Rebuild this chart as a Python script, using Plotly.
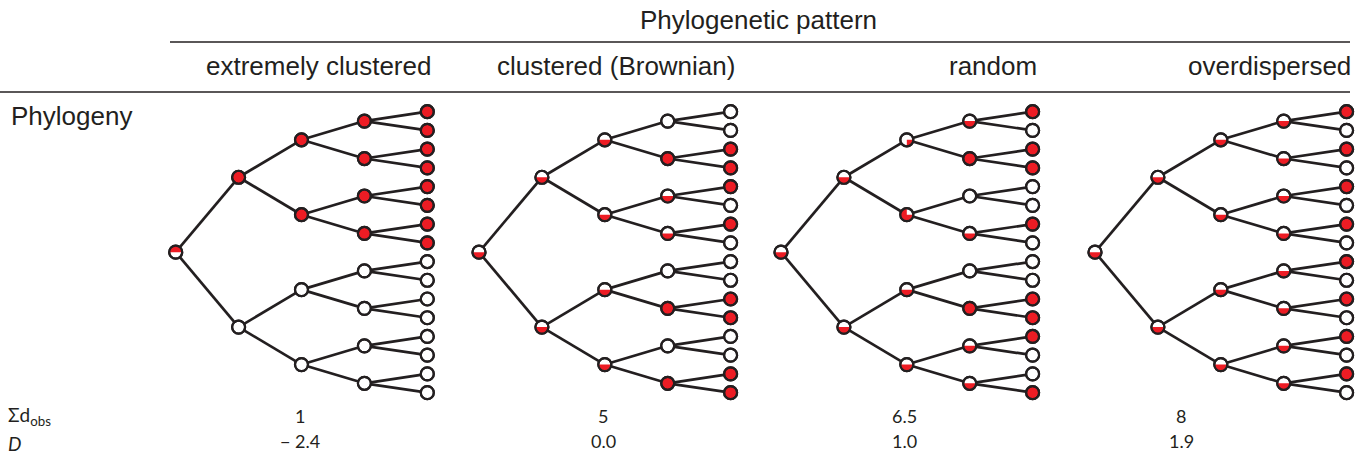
import math
import plotly.graph_objects as go

# ---------------- data ----------------
patterns = ["extremely clustered", "clustered (Brownian)", "random", "overdispersed"]
sum_d_obs = ["1", "5", "6.5", "8"]
D_values = ["\u2212 2.4", "0.0", "1.0", "1.9"]

# tip states, top to bottom (1 = red / trait present, 0 = white / absent)
tips = {
    "extremely clustered": [1, 1, 1, 1, 1, 1, 1, 1, 0, 0, 0, 0, 0, 0, 0, 0],
    "clustered (Brownian)": [0, 0, 1, 1, 1, 0, 1, 0, 0, 0, 1, 1, 0, 0, 1, 1],
    "random": [1, 0, 1, 1, 0, 0, 1, 0, 0, 0, 1, 1, 1, 0, 0, 1],
    "overdispersed": [1, 0, 1, 0, 1, 0, 1, 0, 1, 0, 1, 0, 1, 0, 1, 0],
}
# red fraction of internal nodes, by depth (top to bottom)
depth3 = {
    "extremely clustered": [1, 1, 1, 1, 0, 0, 0, 0],
    "clustered (Brownian)": [0, 1, 0.5, 0.5, 0, 1, 0, 1],
    "random": [0.5, 1, 0, 0.5, 0, 1, 0.5, 0.5],
    "overdispersed": [0.5, 0.5, 0.5, 0.5, 0.5, 0.5, 0.5, 0.5],
}
depth2 = {
    "extremely clustered": [1, 1, 0, 0],
    "clustered (Brownian)": [0.5, 0.5, 0.5, 0.5],
    "random": [0.25, 0.75, 0.5, 0.5],
    "overdispersed": [0.5, 0.5, 0.5, 0.5],
}
depth1 = {
    "extremely clustered": [1, 0],
    "clustered (Brownian)": [0.5, 0.5],
    "random": [0.5, 0.5],
    "overdispersed": [0.5, 0.5],
}
root = {
    "extremely clustered": [0.5],
    "clustered (Brownian)": [0.5],
    "random": [0.5],
    "overdispersed": [0.5],
}

# ---------------- style / layout ----------------
W, H = 1362, 463
RED = "#ED1C24"
INK = "#231F20"
STEP_PX = 62.9                     # pixels per depth unit
ROOT_PX = [175.7, 479.0, 781.0, 1095.0]
XR = [-0.4, 4.2]
LEAF0_PX, LEAF_STEP_PX = 111.7, 18.73
Y_TOP = -LEAF0_PX / LEAF_STEP_PX
Y_BOT = (H - LEAF0_PX) / LEAF_STEP_PX
SY = LEAF_STEP_PX
PIE_START = {"extremely clustered": math.pi}  # root wedge drawn on top in first tree
NODE_SIZE = 13
WEDGE_R = 6.0
VALUE_X_PX = [300, 603, 905, 1181]
ROW_SPLIT_PX = 428
HEAD_FONT = dict(family="Liberation Sans, Arial, sans-serif", size=26, color=INK)
NUM_FONT = dict(family="Lato, Open Sans, sans-serif", size=18, color=INK)
LAB_FONT = dict(family="Lato, Open Sans, sans-serif", size=19, color=INK)

fig = go.Figure()


def build_tree(states_by_depth):
    """Return list of (depth, y, frac) and edges, laid out by leaf order."""
    n_leaf = len(states_by_depth[4])
    ys = {4: [float(i) for i in range(n_leaf)]}
    for d in (3, 2, 1, 0):
        ch = ys[d + 1]
        ys[d] = [(ch[2 * i] + ch[2 * i + 1]) / 2 for i in range(len(ch) // 2)]
    nodes, edges = [], []
    for d in range(5):
        for i, y in enumerate(ys[d]):
            nodes.append((d, y, states_by_depth[d][i]))
            if d < 4:
                for c in (2 * i, 2 * i + 1):
                    edges.append(((d, y), (d + 1, ys[d + 1][c])))
    return nodes, edges


ysplit = 1 - ROW_SPLIT_PX / H

for t, name in enumerate(patterns):
    axn = "" if t == 0 else str(t + 1)
    xa, ya = "x" + axn, "y"
    sx = STEP_PX
    states = {0: root[name], 1: depth1[name], 2: depth2[name], 3: depth3[name], 4: tips[name]}
    nodes, edges = build_tree(states)

    ex, ey = [], []
    for (d0, y0), (d1, y1) in edges:
        ex += [d0, d1, None]
        ey += [y0, y1, None]
    fig.add_trace(go.Scatter(x=ex, y=ey, xaxis=xa, yaxis=ya, mode="lines",
                             line=dict(color=INK, width=2.7), hoverinfo="skip",
                             showlegend=False))

    fig.add_trace(go.Scatter(
        x=[n[0] for n in nodes], y=[n[1] for n in nodes], xaxis=xa, yaxis=ya,
        mode="markers", showlegend=False, hoverinfo="skip",
        marker=dict(size=NODE_SIZE, color=[RED if n[2] >= 1 else "white" for n in nodes],
                    line=dict(color=INK, width=2.2))))

    a0 = PIE_START.get(name, 0.0)
    for d, y, f in nodes:
        if 0 < f < 1:
            npts = 40
            px, py = [d], [y]
            for k in range(npts + 1):
                a = a0 + 2 * math.pi * f * k / npts
                px.append(d + WEDGE_R * math.cos(a) / sx)
                py.append(y + WEDGE_R * math.sin(a) / SY)
            px.append(d)
            py.append(y)
            fig.add_trace(go.Scatter(x=px, y=py, xaxis=xa, yaxis=ya, mode="lines",
                                     fill="toself", fillcolor=RED,
                                     line=dict(width=0, color=RED),
                                     hoverinfo="skip", showlegend=False))

    fig.add_trace(go.Scatter(
        x=[n[0] for n in nodes], y=[n[1] for n in nodes], xaxis=xa, yaxis=ya,
        mode="markers", showlegend=False, hoverinfo="skip",
        marker=dict(size=NODE_SIZE, color="rgba(0,0,0,0)",
                    line=dict(color=INK, width=2.2))))

    d0 = (ROOT_PX[t] + XR[0] * STEP_PX) / W
    d1 = d0 + (XR[1] - XR[0]) * STEP_PX / W
    fig.layout["xaxis" + axn] = dict(domain=[d0, d1], range=XR, visible=False,
                                     fixedrange=True)

    fig.add_annotation(text=name, xref=xa, yref="paper", x=4, xshift=6,
                       y=1 - 66 / H, xanchor="right", yanchor="middle",
                       showarrow=False, font=HEAD_FONT)
    fig.add_annotation(text=sum_d_obs[t], xref="paper", yref="paper",
                       x=VALUE_X_PX[t] / W, y=ysplit, xanchor="center",
                       yanchor="bottom", showarrow=False, font=NUM_FONT,
                       borderpad=0)
    fig.add_annotation(text=D_values[t], xref="paper", yref="paper",
                       x=VALUE_X_PX[t] / W, y=ysplit, yshift=-1, xanchor="center",
                       yanchor="top", showarrow=False, font=NUM_FONT,
                       borderpad=0)

fig.update_layout(
    width=W, height=H, margin=dict(l=0, r=0, t=0, b=0),
    paper_bgcolor="white", plot_bgcolor="white",
    yaxis=dict(domain=[0, 1], range=[Y_BOT, Y_TOP], visible=False, fixedrange=True),
    showlegend=False,
)

fig.add_annotation(text="Phylogenetic pattern", xref="paper", yref="paper",
                   x=758 / W, y=1 - 20 / H, xanchor="center", yanchor="middle",
                   showarrow=False, font=HEAD_FONT)
fig.add_annotation(text="Phylogeny", xref="paper", yref="paper",
                   x=9 / W, y=1 - 116 / H, xanchor="left", yanchor="middle",
                   showarrow=False, font=HEAD_FONT)
fig.add_annotation(text="\u03a3d<sub>obs</sub>", xref="paper", yref="paper",
                   x=7 / W, y=ysplit, yshift=-2, xanchor="left", yanchor="bottom",
                   showarrow=False, font=LAB_FONT, borderpad=0)
fig.add_annotation(text="<i>D</i>", xref="paper", yref="paper",
                   x=7 / W, y=ysplit, yshift=-3, xanchor="left", yanchor="top",
                   showarrow=False, font=LAB_FONT, borderpad=0)

fig.add_shape(type="line", xref="paper", yref="paper", x0=170 / W, x1=1350 / W,
              y0=1 - 42 / H, y1=1 - 42 / H, line=dict(color=INK, width=1.6))
fig.add_shape(type="line", xref="paper", yref="paper", x0=0, x1=1350 / W,
              y0=1 - 92 / H, y1=1 - 92 / H, line=dict(color=INK, width=1.6))

fig.write_html("out.html")
